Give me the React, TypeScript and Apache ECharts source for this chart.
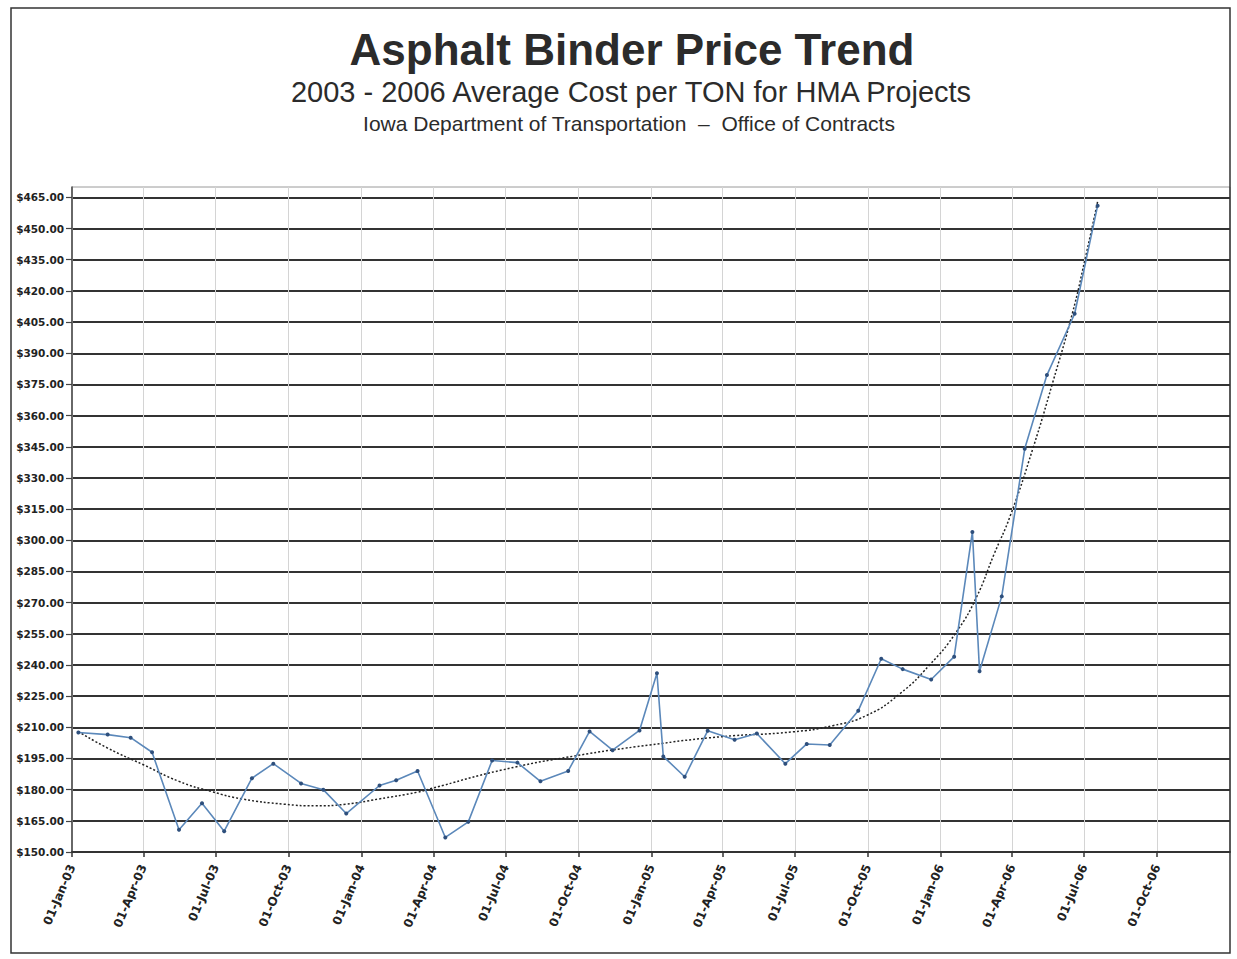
import React, { useEffect, useRef } from "react";
import * as echarts from "echarts";

// Monthly letting dates and the average binder price per ton on each
const lettingDates = [
  "2003-01-09", "2003-02-15", "2003-03-16", "2003-04-12", "2003-05-16", "2003-06-14",
  "2003-07-12", "2003-08-16", "2003-09-12", "2003-10-17", "2003-11-14", "2003-12-13",
  "2004-01-24", "2004-02-14", "2004-03-12", "2004-04-16", "2004-05-15", "2004-06-14",
  "2004-07-16", "2004-08-14", "2004-09-18", "2004-10-15", "2004-11-13", "2004-12-17",
  "2005-01-08", "2005-01-16", "2005-02-12", "2005-03-13", "2005-04-16", "2005-05-14",
  "2005-06-19", "2005-07-16", "2005-08-14", "2005-09-19", "2005-10-18", "2005-11-14",
  "2005-12-20", "2006-01-18", "2006-02-10", "2006-02-19", "2006-03-19", "2006-04-17",
  "2006-05-15", "2006-06-19", "2006-07-18",
];
const binderPrices = [
  207.5, 206.5, 205.0, 198.0, 160.7, 173.5,
  160.0, 185.5, 192.5, 183.0, 180.0, 168.5,
  182.0, 184.5, 189.0, 157.0, 164.5, 194.0,
  193.0, 184.0, 189.0, 208.0, 199.0, 208.5,
  236.0, 196.0, 186.2, 208.3, 204.0, 207.0,
  192.5, 202.0, 201.5, 218.0, 243.0, 238.0,
  233.0, 244.0, 304.0, 237.0, 273.0, 344.0,
  379.5, 409.0, 461.0,
];

// Trend line readings
const trendDates = [
  "2003-01-09", "2003-02-15", "2003-04-01", "2003-05-16", "2003-06-27", "2003-08-04",
  "2003-09-26", "2003-11-04", "2003-12-12", "2004-01-23", "2004-03-12", "2004-03-28",
  "2004-06-27", "2004-09-26", "2004-12-30", "2005-03-31", "2005-06-28", "2005-08-18",
  "2005-09-30", "2005-11-10", "2005-12-18", "2006-01-21", "2006-02-15", "2006-03-09",
  "2006-03-30", "2006-04-28", "2006-05-22", "2006-06-16", "2006-07-02", "2006-07-18",
];
const trendValues = [
  208.0, 200.0, 192.0, 184.0, 179.0, 175.5,
  173.0, 172.2, 173.0, 175.5, 178.8, 180.4,
  189.5, 196.2, 201.5, 205.5, 207.8, 210.8,
  215.8, 226.0, 240.0, 256.0, 272.5, 293.0,
  312.0, 345.0, 375.5, 409.0, 435.0, 463.0,
];

// Axis ticks
const quarterTicks = [
  "2003-01-01", "2003-04-01", "2003-07-01", "2003-10-01",
  "2004-01-01", "2004-04-01", "2004-07-01", "2004-10-01",
  "2005-01-01", "2005-04-01", "2005-07-01", "2005-10-01",
  "2006-01-01", "2006-04-01", "2006-07-01", "2006-10-01",
];
const axisStart = "2003-01-01";
const axisEnd = "2007-01-01";
const priceTicks = [
  150, 165, 180, 195, 210, 225, 240, 255, 270, 285, 300,
  315, 330, 345, 360, 375, 390, 405, 420, 435, 450, 465,
];

const MONTHS = ["Jan", "Feb", "Mar", "Apr", "May", "Jun", "Jul", "Aug", "Sep", "Oct", "Nov", "Dec"];

// Dates are kept as day numbers (UTC) so the axis stays linear in days
function toDay(s: string): number {
  const [y, m, d] = s.split("-").map(Number);
  return Date.UTC(y, m - 1, d) / 86400000;
}

function formatDay(day: number): string {
  const d = new Date(Math.round(day) * 86400000);
  const dd = String(d.getUTCDate()).padStart(2, "0");
  const yr = String(d.getUTCFullYear()).slice(2);
  return `${dd}-${MONTHS[d.getUTCMonth()]}-${yr}`;
}

const labelFont = {
  fontFamily: "DejaVu Sans",
  fontWeight: "bold" as const,
  color: "#222",
};

export default function App() {
  const ref = useRef<HTMLDivElement>(null);

  useEffect(() => {
    if (!ref.current) return;
    const chart = echarts.init(ref.current, undefined, { renderer: "svg" });
    const tickDays = quarterTicks.map(toDay);

    chart.setOption({
      animation: false,
      backgroundColor: "#ffffff",
      grid: {
        left: 72,
        right: 7,
        top: 187,
        bottom: 107,
        show: true,
        borderColor: "#9a9a9a",
        borderWidth: 1,
        containLabel: false,
        outerBoundsMode: "none",
      },
      xAxis: {
        type: "value",
        min: toDay(axisStart),
        max: toDay(axisEnd),
        axisLine: { show: true, onZero: false, lineStyle: { color: "#333", width: 2 } },
        axisTick: {
          show: true,
          customValues: tickDays,
          length: 5,
          lineStyle: { color: "#333", width: 1.5 },
        },
        axisLabel: {
          ...labelFont,
          customValues: tickDays,
          formatter: (v: number) => formatDay(v),
          rotate: 67,
          margin: 13,
          fontSize: 12,
          hideOverlap: false,
        },
        splitLine: { show: true, lineStyle: { color: "#d4d4d4", width: 1 } },
      },
      yAxis: {
        type: "value",
        min: 150,
        max: 470,
        interval: 15,
        axisLine: { show: true, onZero: false, lineStyle: { color: "#444", width: 1.5 } },
        axisTick: {
          show: true,
          customValues: priceTicks,
          length: 6,
          lineStyle: { color: "#444", width: 1.2 },
        },
        axisLabel: {
          ...labelFont,
          customValues: priceTicks,
          formatter: (v: number) => "$" + v.toFixed(2),
          fontSize: 10.5,
          margin: 8,
        },
        splitLine: { show: true, lineStyle: { color: "#333", width: 2 } },
      },
      series: [
        {
          name: "Average Cost per TON",
          type: "line",
          data: lettingDates.map((d, i) => [toDay(d), binderPrices[i]]),
          symbol: "circle",
          symbolSize: 4,
          lineStyle: { color: "#5b88ba", width: 1.6 },
          itemStyle: { color: "#2e4f7c" },
          z: 4,
        },
        {
          name: "Trend",
          type: "line",
          data: trendDates.map((d, i) => [toDay(d), trendValues[i]]),
          smooth: true,
          symbol: "none",
          lineStyle: { color: "#222", width: 1.5, type: [2, 2] },
          z: 3,
        },
      ],
      graphic: [
        {
          type: "rect",
          shape: { x: 11, y: 8, width: 1219, height: 945 },
          style: { fill: "none", stroke: "#333", lineWidth: 1.5 },
          silent: true,
          z: 10,
        },
        {
          type: "text",
          x: 632,
          y: 49,
          style: {
            text: "Asphalt Binder Price Trend",
            fontFamily: "Liberation Sans",
            fontWeight: "bold",
            fontSize: 44,
            fill: "#2b2b2b",
            align: "center",
            verticalAlign: "middle",
          },
        },
        {
          type: "text",
          x: 631,
          y: 92,
          style: {
            text: "2003 - 2006 Average Cost per TON for HMA Projects",
            fontFamily: "Liberation Sans",
            fontSize: 29,
            fill: "#2b2b2b",
            align: "center",
            verticalAlign: "middle",
          },
        },
        {
          type: "text",
          x: 629,
          y: 123,
          style: {
            text: "Iowa Department of Transportation  \u2013  Office of Contracts",
            fontFamily: "Liberation Sans",
            fontSize: 21,
            fill: "#2b2b2b",
            align: "center",
            verticalAlign: "middle",
          },
        },
      ],
    });

    return () => chart.dispose();
  }, []);

  return (
    <div
      ref={ref}
      style={{ position: "fixed", left: 0, top: 0, width: 1237, height: 959 }}
    />
  );
}
